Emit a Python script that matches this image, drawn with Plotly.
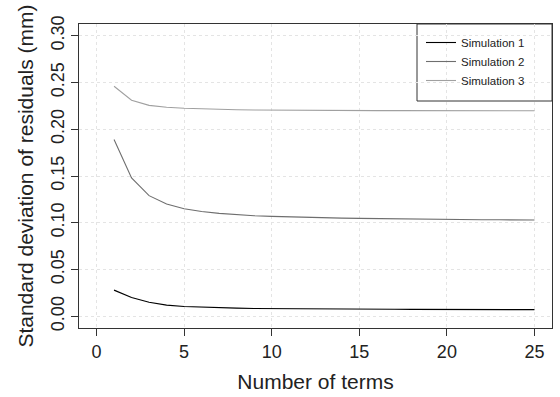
import plotly.graph_objects as go

terms = list(range(1, 26))
sim1 = [0.028, 0.020, 0.015, 0.012, 0.0105, 0.0097, 0.0091, 0.0087, 0.0084, 0.0082,
        0.0080, 0.0079, 0.0078, 0.0077, 0.0076, 0.0075, 0.0075, 0.0074, 0.0074, 0.0073,
        0.0073, 0.0072, 0.0072, 0.0072, 0.0071]
sim2 = [0.189, 0.148, 0.129, 0.120, 0.115, 0.112, 0.110, 0.1085, 0.1075, 0.1068,
        0.1062, 0.1057, 0.1053, 0.1050, 0.1047, 0.1044, 0.1042, 0.1040, 0.1038, 0.1036,
        0.1035, 0.1033, 0.1032, 0.1030, 0.1029]
sim3 = [0.246, 0.231, 0.2255, 0.2235, 0.2225, 0.2218, 0.2213, 0.2209, 0.2206, 0.2204,
        0.2202, 0.2201, 0.2200, 0.2200, 0.2199, 0.2199, 0.2199, 0.2198, 0.2198, 0.2198,
        0.2198, 0.2198, 0.2198, 0.2198, 0.2198]
names = ["Simulation 1", "Simulation 2", "Simulation 3"]
colors = ["#000000", "#6e6e6e", "#a0a0a0"]

fig = go.Figure()
for name, ys, c in zip(names, [sim1, sim2, sim3], colors):
    fig.add_trace(go.Scatter(x=terms, y=ys, mode="lines", name=name,
                             line=dict(color=c, width=1.1)))

W, H = 560, 397
L, R, T, B = 79, 8, 24, 69
pw, ph = W - L - R, H - T - B

font = "Liberation Sans, Arial, sans-serif"
axis_common = dict(showline=True, mirror=True, linecolor="#333333", linewidth=1,
                   ticks="outside", ticklen=7, tickcolor="#333333", automargin=False,
                   showgrid=True, gridcolor="#e4e4e4", griddash="dot", gridwidth=1,
                   zeroline=False, tickfont=dict(size=18, color="#222222", family=font))

# legend frame (white box with dark border)
fig.add_shape(type="rect", xref="paper", yref="paper",
              x0=(417 - L) / pw, x1=1, y0=(H - B - 101) / ph, y1=1,
              line=dict(color="#333333", width=1), fillcolor="white", layer="between")

fig.update_layout(
    width=W, height=H,
    margin=dict(l=L, r=R, t=T, b=B),
    paper_bgcolor="white", plot_bgcolor="white",
    font=dict(family=font, color="#222222"),
    xaxis=dict(range=[-1, 26], tickvals=[0, 5, 10, 15, 20, 25],
               title=dict(text="Number of terms", font=dict(size=21), standoff=13),
               **axis_common),
    yaxis=dict(range=[-0.0125, 0.3125], tickvals=[0, 0.05, 0.10, 0.15, 0.20, 0.25, 0.30],
               tickformat=".2f", tickangle=-90,
               title=dict(text="Standard deviation of residuals (mm)", font=dict(size=21), standoff=8),
               **axis_common),
    legend=dict(x=(421 - L) / pw, y=(H - B - 28) / ph, xanchor="left", yanchor="top",
                bgcolor="rgba(0,0,0,0)", borderwidth=0,
                font=dict(size=11.5, color="#222222"), tracegroupgap=0),
    showlegend=True,
)

fig.write_html("out.html", post_script="document.body.style.margin='0';",
               config={"displayModeBar": False})
